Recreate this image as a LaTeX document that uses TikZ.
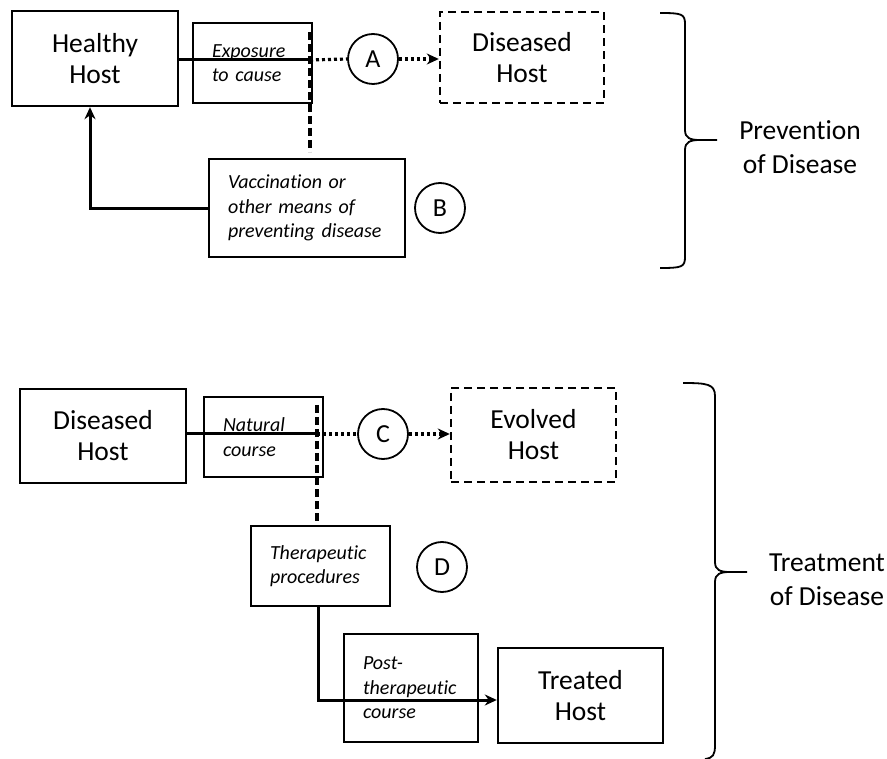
\documentclass[tikz,border=0pt]{standalone}
\usepackage{fontspec}
\setmainfont{Carlito}[Ligatures=NoCommon]
\usetikzlibrary{arrows.meta}
\begin{document}
\begin{tikzpicture}[x=1pt,y=-1pt,
    hostbox/.style={draw,line width=2.4pt,font=\fontsize{27.5}{31}\selectfont,align=center},
    futurebox/.style={hostbox,dash pattern=on 8pt off 5pt},
    notebox/.style={draw,line width=1.2pt,font=\fontsize{20}{24.5}\selectfont\itshape,align=left,inner xsep=19pt,inner ysep=0pt},
    mark circle/.style={draw,circle,line width=1.8pt,inner sep=0pt,minimum size=50pt,font=\fontsize{26}{26}\selectfont},
    thickline/.style={line width=3pt},
    dottedline/.style={line width=3.2pt,dash pattern=on 3pt off 3pt},
    dashedline/.style={line width=3.4pt,dash pattern=on 8pt off 4pt},
    tip/.style={-{Stealth[length=12pt,width=11pt]}},
    bracelabel/.style={font=\fontsize{27.5}{34}\selectfont,align=center}]
    \useasboundingbox (0,0) rectangle (887,759);

    \node[notebox,text width=81pt,minimum height=80pt] (exposure) at (252.5,63) {Exposure\\to cause};
    \node[hostbox,minimum width=166pt,minimum height=95pt] (healthy) at (95,58.5) {Healthy\\Host};
    \node[futurebox,minimum width=164pt,minimum height=91pt] (diseasedA) at (522,57.5) {Diseased\\Host};
    \node[notebox,text width=158pt,minimum height=98pt] (vaccine) at (307,208) {Vaccination or\\other means of\\preventing disease};
    \node[mark circle] (markA) at (373,59) {A};
    \node[mark circle] (markB) at (440,208) {B};

    \coordinate (forkA) at (310,60);
    \coordinate (forkAtop) at (310,32);
    \coordinate (forkAend) at (310,152);
    \coordinate (turnB) at (90,209);

    \draw[thickline] (healthy.east |- forkA) -- (forkA);
    \draw[dashedline] (forkAtop) -- (forkAend);
    \draw[dottedline] (forkA) -- (markA.west);
    \draw[dottedline,tip] (markA.east) -- (diseasedA.west |- markA.east);
    \draw[thickline,tip] (vaccine.west |- turnB) -- (turnB) -- (turnB |- healthy.south);

    \draw[line width=1.8pt] (660,13) .. controls (682,13) and (685,14) .. (685,24) -- (685,130)
        .. controls (685,138) and (690,140) .. (700,140) -- (717,140);
    \draw[line width=1.8pt] (700,140) .. controls (690,140) and (685,142) .. (685,150) -- (685,257)
        .. controls (685,267) and (682,268) .. (660,268);
    \node[bracelabel] (prevention) at (800,147) {Prevention\\of Disease};

    \node[notebox,text width=81pt,minimum height=80pt] (natural) at (263.5,437) {Natural\\course};
    \node[hostbox,minimum width=166pt,minimum height=94pt] (diseasedB) at (103,436) {Diseased\\Host};
    \node[futurebox,minimum width=165pt,minimum height=94pt] (evolved) at (533.5,435) {Evolved\\Host};
    \node[notebox,text width=101pt,minimum height=80pt] (therapy) at (320.5,566) {Therapeutic\\procedures};
    \node[notebox,text width=96pt,minimum height=108pt] (post) at (411,688) {Post-\\therapeutic\\course};
    \node[hostbox,minimum width=165pt,minimum height=95pt] (treated) at (580.5,695.5) {Treated\\Host};
    \node[mark circle] (markC) at (383,434) {C};
    \node[mark circle] (markD) at (442,567) {D};

    \coordinate (forkC) at (317,434);
    \coordinate (forkCtop) at (317,405);
    \coordinate (turnD) at (318,700);

    \draw[thickline] (diseasedB.east |- forkC) -- (forkC);
    \draw[dashedline] (forkCtop) -- (forkCtop |- therapy.north);
    \draw[dottedline] (forkC) -- (markC.west);
    \draw[dottedline,tip] (markC.east) -- (evolved.west |- markC.east);
    \draw[thickline,tip] (turnD |- therapy.south) -- (turnD) -- (treated.west |- turnD);

    \draw[line width=1.8pt] (683,383) .. controls (707,383) and (715,384) .. (715,396) -- (715,562)
        .. controls (715,570) and (720,572) .. (730,572) -- (747,572);
    \draw[line width=1.8pt] (730,572) .. controls (720,572) and (715,574) .. (715,582) -- (715,745)
        .. controls (715,755) and (713,758) .. (705,759);
    \node[bracelabel] (treatment) at (827,580) {Treatment\\of Disease};
\end{tikzpicture}
\end{document}
